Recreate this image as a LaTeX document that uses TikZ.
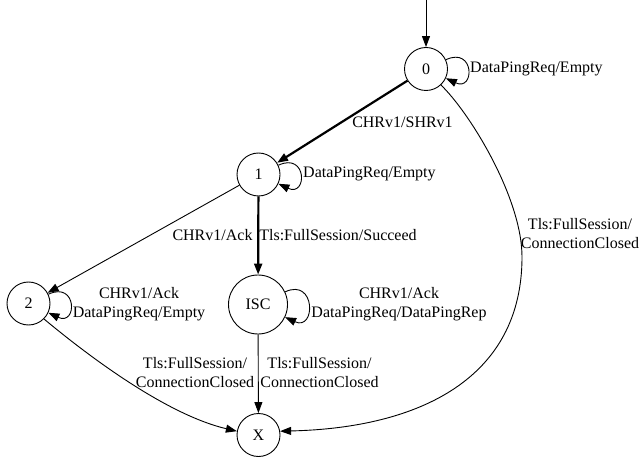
\documentclass[tikz,border=0pt]{standalone}
\usepackage{fontspec}
\setmainfont{Liberation Serif}
\usetikzlibrary{arrows.meta}
\tikzset{
  state/.style={circle, draw, line width=0.9pt, minimum size=43pt, inner sep=0pt, font=\fontsize{16}{19}\selectfont},
  bigstate/.style={state, minimum size=59pt},
  lbl/.style={inner sep=0pt, align=center, font=\fontsize{16}{19}\selectfont},
  edge/.style={line width=0.9pt, -{Triangle[length=11pt,width=8pt]}},
  thickedge/.style={line width=2.2pt, -{Triangle[length=11pt,width=8pt]}}
}
\begin{document}
\begin{tikzpicture}[x=1pt,y=1pt]
\useasboundingbox (0,0) rectangle (639,458);
% states
\node[state] (n0) at (426,389) {0};
\node[state] (n1) at (258.5,283.5) {1};
\node[state] (n2) at (28.5,154.5) {2};
\node[bigstate] (isc) at (258,153.5) {ISC};
\node[state] (nx) at (258.5,23) {X};
\coordinate (init) at (426,458);
% labels
\node[lbl, anchor=west] (l0) at (470,389) {DataPingReq/Empty};
\node[lbl] (l01) at (402.5,336) {CHRv1/SHRv1};
\node[lbl, anchor=west] (l1) at (303,284) {DataPingReq/Empty};
\node[lbl] (l12) at (212.5,223) {CHRv1/Ack};
\node[lbl] (l1i) at (338,223) {Tls:FullSession/Succeed};
\node[lbl] (l2) at (139,153.5) {CHRv1/Ack\\DataPingReq/Empty};
\node[lbl] (li) at (399,154) {CHRv1/Ack\\DataPingReq/DataPingRep};
\node[lbl] (l2x) at (195,85.5) {Tls:FullSession/\\ConnectionClosed};
\node[lbl] (lix) at (319.5,85.5) {Tls:FullSession/\\ConnectionClosed};
\node[lbl] (l0x) at (580,224) {Tls:FullSession/\\ConnectionClosed};
% edges
\draw[edge] (init) -- (n0);
\draw[edge] (n0.25) .. controls +(25:32) and +(-25:32) .. (n0.-25);
\draw[thickedge] (n0) -- (n1);
\draw[edge] (n1.25) .. controls +(25:32) and +(-25:32) .. (n1.-25);
\draw[edge] (n1) -- (n2);
\draw[thickedge] (n1) -- (isc);
\draw[edge] (n2.25) .. controls +(25:32) and +(-25:32) .. (n2.-25);
\draw[edge] (isc.25) .. controls +(25:34) and +(-25:34) .. (isc.-25);
\draw[edge] (n2.-45) .. controls (92,99) and (168,43) .. (nx.170);
\draw[edge] (isc) -- (nx);
\draw[edge] (n0.-47) .. controls (470,345) and (522,260) .. (522,201) .. controls (522,80) and (420,30) .. (nx.10);
\end{tikzpicture}
\end{document}
